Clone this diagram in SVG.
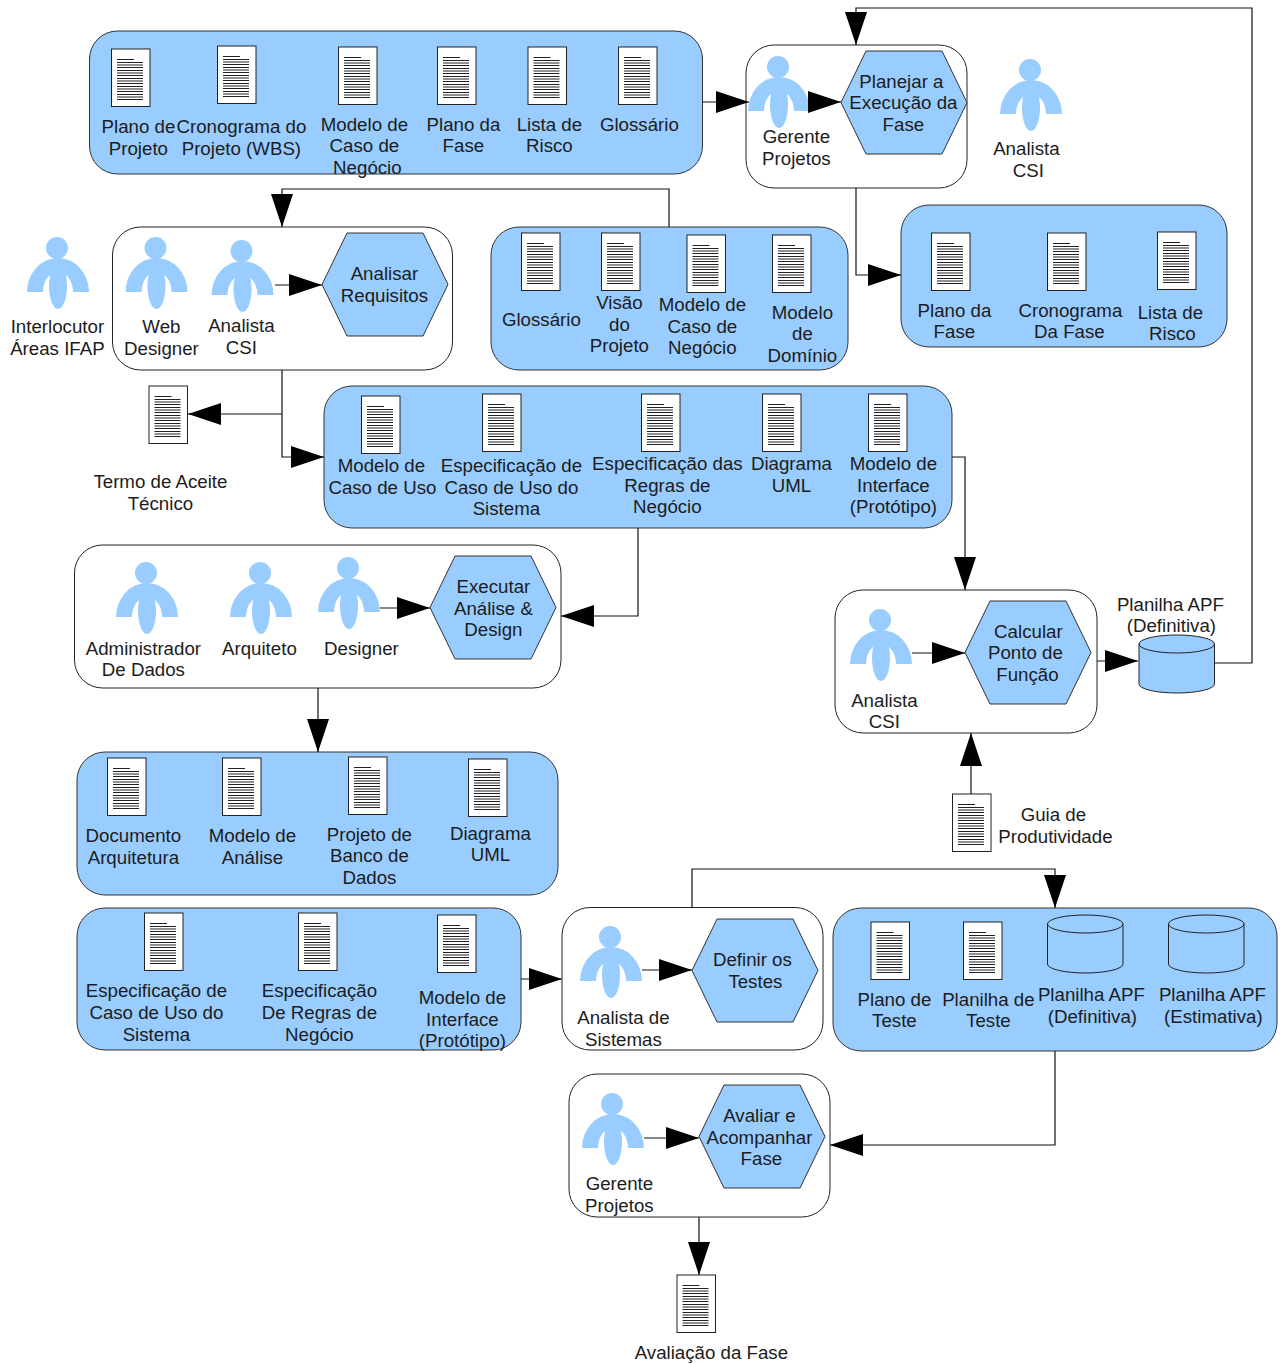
<svg xmlns="http://www.w3.org/2000/svg" width="1280" height="1364" viewBox="0 0 1280 1364">
<style>
text{font-family:"Liberation Sans",Arial,sans-serif;font-size:18.7px;fill:#1c1c1c;text-anchor:middle;transform:translateX(.4px)}
.blue{fill:#99ccff;stroke:#333;stroke-width:1}
.white{fill:#fff;stroke:#222;stroke-width:1}
.con{fill:none;stroke:#111;stroke-width:1.2;marker-end:url(#arr)}
</style>
<defs>
<marker id="arr" markerUnits="userSpaceOnUse" markerWidth="34" markerHeight="24" refX="33" refY="11" orient="auto"><path d="M0 0L33 11L0 22z" fill="#000"/></marker>
<g id="doc"><rect x="0.5" y="0" width="38.500" height="57.500" fill="#fff" stroke="#222"/>
<path d="M6 10.500h17M6 13.500h26M6 16h26M6 18.500h26M6 21.500h26M6 24h26M6 26.500h26M6 29.500h26M6 32h26M6 34.500h26M6 37.500h26M6 40h26M6 42.500h26M6 45.500h26M6 48h26M6 50.500h26" stroke="#222" stroke-width="1.100" fill="none"/></g>
<g id="person" fill="#99ccff"><circle cx="0" cy="0" r="11"/><path d="M-30 44A31 34 0 0 1 32 44H16A15 20 0 0 0 -14 44z"/><ellipse cx="1" cy="38" rx="9" ry="23"/></g>
<polygon id="hex" points="25,0 101,0 126,51.500 101,103 25,103 0,51.500" fill="#99ccff" stroke="#333"/>
<g id="cyl" fill="none" stroke="#222"><path d="M0.500 9V49A37.750 9 0 0 0 76 49V9"/><ellipse cx="38.250" cy="9" rx="37.750" ry="9"/></g>
</defs>

<g id="card-artefatos-planejamento">
<rect class="blue" x="89.500" y="31" width="613" height="143" rx="28"/>
<use href="#doc" x="111" y="49"/><use href="#doc" x="217" y="46"/><use href="#doc" x="338" y="47"/><use href="#doc" x="437" y="47"/><use href="#doc" x="527.500" y="47"/><use href="#doc" x="618" y="47"/>
<text x="138" y="133">Plano de</text><text x="138" y="155">Projeto</text>
<text x="241" y="133">Cronograma do</text><text x="241" y="155">Projeto (WBS)</text>
<text x="364" y="131">Modelo de</text><text x="364" y="152">Caso de</text><text x="367" y="174">Negócio</text>
<text x="463" y="131">Plano da</text><text x="463" y="152">Fase</text>
<text x="549" y="131">Lista de</text><text x="549" y="152">Risco</text>
<text x="639" y="131">Glossário</text>
</g>

<g id="node-planejar">
<rect class="white" x="746" y="45" width="221" height="143" rx="28"/>
<use href="#person" x="778" y="67"/>
<text x="796" y="143">Gerente</text><text x="796" y="165">Projetos</text>
<use href="#hex" x="841" y="51"/>
<text x="901" y="88">Planejar a</text><text x="903" y="109">Execução da</text><text x="903" y="131">Fase</text>
</g>

<g id="node-analista-csi-topo">
<use href="#person" x="1030" y="70"/>
<text x="1026" y="155">Analista</text><text x="1028" y="177">CSI</text>
</g>

<g id="card-fase">
<rect class="blue" x="901" y="205" width="326" height="142" rx="28"/>
<use href="#doc" x="931" y="233"/><use href="#doc" x="1047" y="233"/><use href="#doc" x="1157" y="232"/>
<text x="954" y="317">Plano da</text><text x="954" y="338">Fase</text>
<text x="1070" y="317">Cronograma</text><text x="1069" y="338">Da Fase</text>
<text x="1170" y="319">Lista de</text><text x="1172" y="340">Risco</text>
</g>

<g id="node-interlocutor">
<use href="#person" x="57" y="248"/>
<text x="57" y="333">Interlocutor</text><text x="57" y="355">Áreas IFAP</text>
</g>

<g id="node-analisar">
<rect class="white" x="112.500" y="227" width="340" height="143" rx="28"/>
<use href="#person" x="155.500" y="248"/><use href="#person" x="241.500" y="251"/>
<text x="161" y="333">Web</text><text x="161" y="355">Designer</text>
<text x="241" y="332">Analista</text><text x="241" y="354">CSI</text>
<use href="#hex" x="322" y="233"/>
<text x="384" y="280">Analisar</text><text x="384" y="302">Requisitos</text>
</g>

<g id="card-entrada-requisitos">
<rect class="blue" x="491" y="227" width="357" height="143" rx="28"/>
<use href="#doc" x="521" y="233"/><use href="#doc" x="601" y="233"/><use href="#doc" x="686.500" y="235"/><use href="#doc" x="772" y="235"/>
<text x="541" y="326">Glossário</text>
<text x="619" y="309">Visão</text><text x="619" y="331">do</text><text x="619" y="352">Projeto</text>
<text x="702" y="311">Modelo de</text><text x="702" y="333">Caso de</text><text x="702" y="354">Negócio</text>
<text x="802" y="319">Modelo</text><text x="802" y="340">de</text><text x="802" y="362">Domínio</text>
</g>

<g id="node-termo-aceite">
<use href="#doc" x="148.500" y="386"/>
<text x="160" y="488">Termo de Aceite</text><text x="160" y="510">Técnico</text>
</g>

<g id="card-requisitos">
<rect class="blue" x="324" y="386" width="628" height="142" rx="28"/>
<use href="#doc" x="361" y="396"/><use href="#doc" x="482" y="394"/><use href="#doc" x="641" y="394"/><use href="#doc" x="762" y="394"/><use href="#doc" x="868" y="394"/>
<text x="381" y="472">Modelo de</text><text x="382" y="494">Caso de Uso</text>
<text x="511" y="472">Especificação de</text><text x="511" y="494">Caso de Uso do</text><text x="506" y="515">Sistema</text>
<text x="667" y="470">Especificação das</text><text x="667" y="492">Regras de</text><text x="667" y="513">Negócio</text>
<text x="791" y="470">Diagrama</text><text x="791" y="492">UML</text>
<text x="893" y="470">Modelo de</text><text x="893" y="492">Interface</text><text x="893" y="513">(Protótipo)</text>
</g>

<g id="node-executar">
<rect class="white" x="74.500" y="545" width="486.500" height="143" rx="28"/>
<use href="#person" x="146" y="573"/><use href="#person" x="260" y="573"/><use href="#person" x="348" y="568"/>
<text x="143" y="655">Administrador</text><text x="143" y="676">De Dados</text>
<text x="259" y="655">Arquiteto</text><text x="361" y="655">Designer</text>
<use href="#hex" x="430" y="556"/>
<text x="493" y="593">Executar</text><text x="493" y="615">Análise &amp;</text><text x="493" y="636">Design</text>
</g>

<g id="node-calcular">
<rect class="white" x="835" y="590" width="262" height="143" rx="28"/>
<use href="#person" x="880" y="620"/>
<text x="884" y="707">Analista</text><text x="884" y="728">CSI</text>
<use href="#hex" x="965" y="601"/>
<text x="1028" y="638">Calcular</text><text x="1025" y="659">Ponto de</text><text x="1027" y="681">Função</text>
</g>

<g id="node-planilha-definitiva">
<path d="M1139 644V684A37.750 9 0 0 0 1214.500 684V644z" fill="#99ccff"/>
<ellipse cx="1176.750" cy="644" rx="37.750" ry="9" fill="#99ccff"/>
<use href="#cyl" x="1138.500" y="635"/>
<text x="1170" y="611">Planilha APF</text><text x="1171" y="632">(Definitiva)</text>
</g>

<g id="node-guia">
<use href="#doc" x="952" y="794"/>
<text x="1053" y="821">Guia de</text><text x="1055" y="843">Produtividade</text>
</g>

<g id="card-analise">
<rect class="blue" x="77" y="752" width="481" height="143" rx="28"/>
<use href="#doc" x="107" y="758"/><use href="#doc" x="222" y="758"/><use href="#doc" x="348" y="757"/><use href="#doc" x="468" y="759"/>
<text x="133" y="842">Documento</text><text x="133" y="864">Arquitetura</text>
<text x="252" y="842">Modelo de</text><text x="252" y="864">Análise</text>
<text x="369" y="841">Projeto de</text><text x="369" y="862">Banco de</text><text x="369" y="884">Dados</text>
<text x="490" y="840">Diagrama</text><text x="490" y="861">UML</text>
</g>

<g id="card-entrada-testes">
<rect class="blue" x="77" y="908" width="444" height="142" rx="28"/>
<use href="#doc" x="144" y="913"/><use href="#doc" x="298" y="913"/><use href="#doc" x="437" y="915"/>
<text x="156" y="997">Especificação de</text><text x="156" y="1019">Caso de Uso do</text><text x="156" y="1041">Sistema</text>
<text x="319" y="997">Especificação</text><text x="319" y="1019">De Regras de</text><text x="319" y="1041">Negócio</text>
<text x="462" y="1004">Modelo de</text><text x="462" y="1026">Interface</text><text x="462" y="1047">(Protótipo)</text>
</g>

<g id="node-definir">
<rect class="white" x="562" y="907.500" width="261" height="142.500" rx="28"/>
<use href="#person" x="610" y="937"/>
<text x="623" y="1024">Analista de</text><text x="623" y="1046">Sistemas</text>
<use href="#hex" x="692" y="919"/>
<text x="752" y="966">Definir os</text><text x="755" y="988">Testes</text>
</g>

<g id="card-testes">
<rect class="blue" x="833" y="908" width="444" height="143" rx="28"/>
<use href="#doc" x="870.500" y="922"/><use href="#doc" x="963" y="922"/>
<use href="#cyl" x="1047" y="915"/><use href="#cyl" x="1168" y="915"/>
<text x="894" y="1006">Plano de</text><text x="894" y="1027">Teste</text>
<text x="988" y="1006">Planilha de</text><text x="988" y="1027">Teste</text>
<text x="1091" y="1001">Planilha APF</text><text x="1092" y="1023">(Definitiva)</text>
<text x="1212" y="1001">Planilha APF</text><text x="1213" y="1023">(Estimativa)</text>
</g>

<g id="node-avaliar">
<rect class="white" x="569" y="1074" width="261" height="143" rx="28"/>
<use href="#person" x="612" y="1104"/>
<text x="619" y="1190">Gerente</text><text x="619" y="1212">Projetos</text>
<use href="#hex" x="699" y="1085"/>
<text x="759" y="1122">Avaliar e</text><text x="759" y="1144">Acompanhar</text><text x="761" y="1165">Fase</text>
</g>

<g id="node-avaliacao-fase">
<use href="#doc" x="676.500" y="1275"/>
<text x="711" y="1359">Avaliação da Fase</text>
</g>

<g id="connectors">
<path class="con" d="M702 102H749"/>
<path class="con" d="M808 102H841"/>
<path class="con" d="M1214 663H1252V8H856V45"/>
<path class="con" d="M856 188V275H901"/>
<path class="con" d="M669 227V189H282V227"/>
<path class="con" d="M275 285H322"/>
<path class="con" d="M282 370V457H324"/>
<path class="con" d="M282 414H188"/>
<path class="con" d="M952 457H965V590"/>
<path class="con" d="M638 528V616H561"/>
<path class="con" d="M380 608H430"/>
<path class="con" d="M318 688V752"/>
<path class="con" d="M912 653H965"/>
<path class="con" d="M1097 661H1138"/>
<path class="con" d="M971 794V733"/>
<path class="con" d="M521 979H562"/>
<path class="con" d="M642 970H692"/>
<path class="con" d="M692 908V869H1055V908"/>
<path class="con" d="M1055 1051V1145H830"/>
<path class="con" d="M644 1138H699"/>
<path class="con" d="M699 1217V1275"/>
</g>
</svg>
